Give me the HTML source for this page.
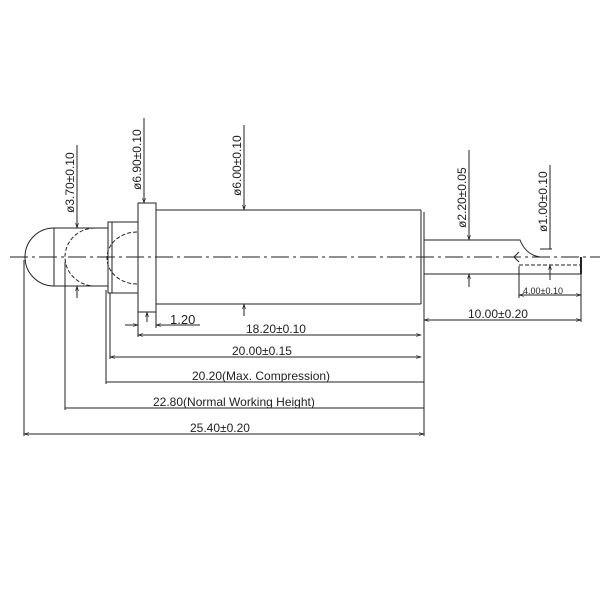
<!DOCTYPE html>
<html><head><style>body{margin:0;background:#fff}svg{display:block}text{font-family:"Liberation Sans",sans-serif;fill:#222}</style></head><body>
<svg width="600" height="600" viewBox="0 0 600 600" xmlns="http://www.w3.org/2000/svg">
<defs><marker id="a" viewBox="0 0 10 10" refX="10" refY="5" markerWidth="7" markerHeight="5" orient="auto-start-reverse"><path d="M0,2 L10,5 L0,8" fill="none" stroke="#222" stroke-width="1.2"/></marker></defs>
<g stroke="#222" stroke-width="1" fill="none">
<line x1="10" y1="257" x2="600" y2="257" stroke-dasharray="18,4,3,4"/>
<path d="M54,228 A29,29 0 0 0 54,286"/>
<line x1="54" y1="228" x2="54" y2="286"/>
<line x1="54" y1="228" x2="108" y2="228"/><line x1="54" y1="286" x2="108" y2="286"/>
<path d="M95,228 A30,29 0 0 0 95,286" stroke-dasharray="4,2"/>
<path d="M137,232 A30,26 0 0 0 137,284" stroke-dasharray="4,2"/>
<rect x="108" y="222" width="4" height="71"/>
<rect x="112" y="222" width="26" height="71"/>
<rect x="138" y="203" width="18" height="109"/>
<line x1="156" y1="210" x2="421" y2="210"/><line x1="156" y1="304" x2="421" y2="304"/>
<line x1="421" y1="210" x2="421" y2="304"/><line x1="424" y1="212" x2="424" y2="302"/>
<path d="M424,240 L520,240 Q526,255 540,257"/>
<line x1="424" y1="274" x2="581" y2="274"/>
<line x1="519" y1="265" x2="581" y2="265" stroke-dasharray="4,2"/>
<path d="M519,252 L514,257 L519,262"/>
<line x1="581" y1="257" x2="581" y2="274" stroke-width="2"/>
<line x1="540" y1="249" x2="552" y2="249"/>
<line x1="77" y1="145" x2="77" y2="228" marker-end="url(#a)"/><line x1="77" y1="298" x2="77" y2="286" marker-end="url(#a)"/>
<line x1="144" y1="118" x2="144" y2="203" marker-end="url(#a)"/><line x1="147" y1="322" x2="147" y2="312" marker-end="url(#a)"/>
<line x1="244" y1="125" x2="244" y2="210" marker-end="url(#a)"/><line x1="244" y1="316" x2="244" y2="304" marker-end="url(#a)"/>
<line x1="469" y1="150" x2="469" y2="240" marker-end="url(#a)"/><line x1="469" y1="287" x2="469" y2="274" marker-end="url(#a)"/>
<line x1="550" y1="165" x2="550" y2="249"/><line x1="550" y1="280" x2="550" y2="265" marker-end="url(#a)"/>
<line x1="24" y1="260" x2="24" y2="436"/>
<line x1="65" y1="262" x2="65" y2="410"/>
<line x1="106" y1="290" x2="106" y2="384"/>
<line x1="110" y1="293" x2="110" y2="359"/>
<line x1="138" y1="312" x2="138" y2="337"/>
<line x1="156" y1="312" x2="156" y2="328"/>
<line x1="424" y1="274" x2="424" y2="436"/>
<line x1="519" y1="266" x2="519" y2="298"/>
<line x1="581" y1="274" x2="581" y2="322"/>
<line x1="125" y1="325" x2="138" y2="325" marker-end="url(#a)"/><line x1="170" y1="325" x2="156" y2="325" marker-end="url(#a)"/>
<line x1="160" y1="325" x2="200" y2="325"/>
<line x1="138" y1="335" x2="421" y2="335" marker-start="url(#a)" marker-end="url(#a)"/>
<line x1="110" y1="357" x2="421" y2="357" marker-start="url(#a)" marker-end="url(#a)"/>
<line x1="106" y1="382" x2="424" y2="382"/>
<line x1="65" y1="408" x2="424" y2="408"/>
<line x1="24" y1="434" x2="424" y2="434" marker-start="url(#a)" marker-end="url(#a)"/>
<line x1="519" y1="295" x2="581" y2="295" marker-start="url(#a)" marker-end="url(#a)"/>
<line x1="424" y1="320" x2="581" y2="320" marker-start="url(#a)" marker-end="url(#a)"/>
<line x1="427" y1="320" x2="437" y2="320"/>
</g>
<g font-size="12">
<text transform="translate(74,213) rotate(-90)">ø3.70±0.10</text>
<text transform="translate(141,190) rotate(-90)">ø6.90±0.10</text>
<text transform="translate(241,196) rotate(-90)">ø6.00±0.10</text>
<text transform="translate(466,228) rotate(-90)">ø2.20±0.05</text>
<text transform="translate(547,232) rotate(-90)">ø1.00±0.10</text>
<text x="170" y="324" font-size="13">1.20</text>
<text x="246" y="333">18.20±0.10</text>
<text x="232" y="355">20.00±0.15</text>
<text x="192" y="380">20.20(Max. Compression)</text>
<text x="153" y="406">22.80(Normal Working Height)</text>
<text x="190" y="432">25.40±0.20</text>
<text x="523" y="294" font-size="9">4.00±0.10</text>
<text x="468" y="318">10.00±0.20</text>
</g>
</svg>
</body></html>
